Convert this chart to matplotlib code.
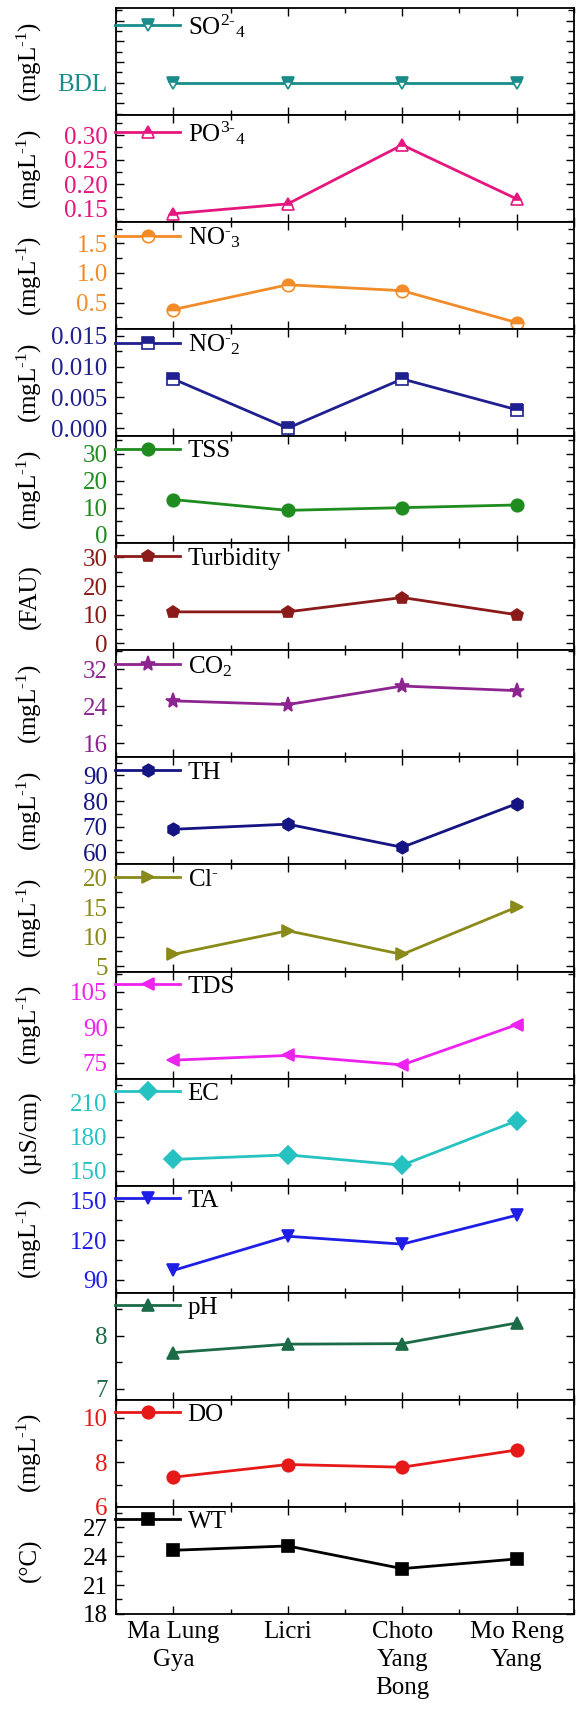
import matplotlib
matplotlib.use("Agg")
from matplotlib import pyplot as plt
from matplotlib.ticker import MultipleLocator, AutoMinorLocator, FormatStrFormatter
import numpy as np

plt.rcParams["font.family"] = ["Liberation Serif", "DejaVu Serif"]
plt.rcParams["mathtext.fontset"] = "custom"
plt.rcParams["mathtext.rm"] = "Liberation Serif"
plt.rcParams["mathtext.it"] = "Liberation Serif:italic"
plt.rcParams["mathtext.default"] = "regular"
plt.rcParams["font.size"] = 18

sites = ["Ma Lung\nGya", "Licri", "Choto\nYang\nBong", "Mo Reng\nYang"]

# values read per site (SO4 below detection limit everywhere)
so4 = [0, 0, 0, 0]
po4 = [0.14, 0.16, 0.28, 0.17]
no3 = [0.38, 0.80, 0.70, 0.16]
no2 = [0.008, 0.000, 0.008, 0.003]
tss = [13, 9, 10, 11]
turbidity = [11, 11, 16, 10]
co2 = [25.2, 24.4, 28.4, 27.4]
th = [69, 71, 62, 79]
cl = [7, 11, 7, 15]
tds = [76, 78, 74, 91]
ec = [160, 164, 155, 194]
ta = [97, 123, 117, 139]
ph = [7.68, 7.84, 7.85, 8.24]
do = [7.33, 7.90, 7.78, 8.55]
wt = [24.6, 25.05, 22.7, 23.7]

mgl = "(mgL$^{\\text{-}1}$)"

# name, values, color, marker, fillstyle, ylabel, ylim, major step, tick format
panels = [
    ("SO$^{2\\text{-}}$$_{4}$", so4, "#1a8c8a", "v", "top", mgl, (-1.57, 3.62), 1, None),
    ("PO$^{3\\text{-}}$$_{4}$", po4, "#e5177e", "^", "top", mgl, (0.123, 0.341), 0.05, "%.2f"),
    ("NO$^{\\text{-}}$$_{3}$", no3, "#f28c28", "o", "top", mgl, (0.05, 1.86), 0.5, "%.1f"),
    ("NO$^{\\text{-}}$$_{2}$", no2, "#1f1f8f", "s", "top", mgl, (-0.0013, 0.0161), 0.005, "%.3f"),
    ("TSS", tss, "#1e8c1e", "o", "full", mgl, (-3.2, 36.5), 10, "%d"),
    ("Turbidity", turbidity, "#8b1a1a", "p", "full", "(FAU)", (-2.4, 34.9), 10, "%d"),
    ("CO$_{2}$", co2, "#8e2490", "*", "full", mgl, (13, 36.1), 8, "%d"),
    ("TH", th, "#141482", "h", "full", mgl, (55.3, 97), 10, "%d"),
    ("Cl$^{\\text{-}}$", cl, "#8a8a1a", ">", "full", mgl, (4.1, 22.2), 5, "%d"),
    ("TDS", tds, "#ee22ee", "<", "full", mgl, (68.2, 113.5), 15, "%d"),
    ("EC", ec, "#26c2c2", "D", "full", "(µS/cm)", (137, 230.9), 30, "%d"),
    ("TA", ta, "#1e1ee6", "v", "full", mgl, (80, 161.5), 30, "%d"),
    ("pH", ph, "#1b6b47", "^", "full", "", (6.79, 8.81), 1, "%d"),
    ("DO", do, "#e61919", "o", "full", mgl, (6, 10.8), 2, "%d"),
    ("WT", wt, "black", "s", "full", "(°C)", (18, 29.1), 3, "%d"),
]

fig, axes = plt.subplots(len(panels), 1, sharex=True, figsize=(5.76, 17.21), dpi=100)
fig.subplots_adjust(left=0.2014, right=0.9965, top=0.9954, bottom=0.0622, hspace=0)

x = np.arange(len(sites))

for ax, (name, vals, color, marker, fs, ylab, ylim, step, fmt) in zip(axes, panels):
    ms = 11 if marker == "*" else 9
    ax.plot(x, vals, color=color, lw=2, marker=marker, ms=ms, fillstyle=fs,
            markerfacecoloralt="white", markeredgecolor=color, markeredgewidth=1.2,
            label=name)
    ax.set_ylim(*ylim)
    ax.set_xlim(-0.5, 3.5)
    ax.yaxis.set_major_locator(MultipleLocator(step))
    ax.yaxis.set_minor_locator(AutoMinorLocator(2))
    if fmt:
        ax.yaxis.set_major_formatter(FormatStrFormatter(fmt))
    else:
        # sulphate was below detection limit, only label that level
        ax.set_yticks([-1, 0, 1, 2, 3])
        ax.set_yticklabels(["", "BDL", "", "", ""])
    ax.xaxis.set_minor_locator(MultipleLocator(0.5))
    ax.tick_params(axis="both", which="both", direction="in", top=True, right=True)
    ax.tick_params(axis="y", which="major", length=6, width=1, pad=6, labelcolor=color)
    ax.tick_params(axis="y", which="minor", length=4, width=1)
    ax.tick_params(axis="x", which="major", length=6, width=1, pad=5)
    ax.tick_params(axis="x", which="minor", length=3.5, width=1)
    for sp in ax.spines.values():
        sp.set_linewidth(1.3)
    ax.set_ylabel(ylab, va="center")
    ax.yaxis.set_label_coords(-0.188, 0.5)
    ax.legend(loc="upper left", bbox_to_anchor=(-0.0103, 1.0), frameon=False,
              handlelength=2.6, handletextpad=0.3, borderaxespad=0, borderpad=0.15,
              numpoints=1)

axes[-1].set_xticks(x)
axes[-1].set_xticklabels(sites, linespacing=1.35)

plt.savefig("out.png", dpi=100)
